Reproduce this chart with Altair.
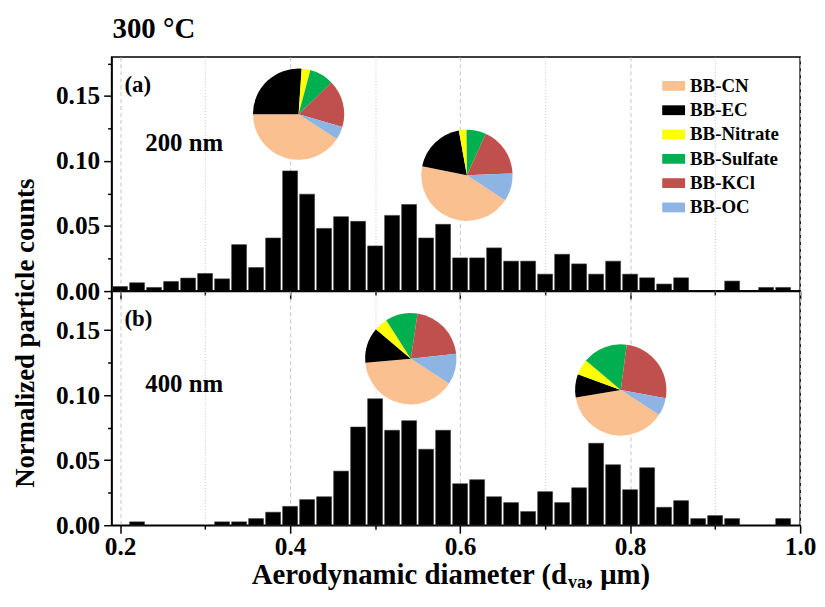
import math
import altair as alt
import pandas as pd

FONT = "Liberation Serif"

# ---------------- data ----------------
bin_centers = [0.20, 0.22, 0.24, 0.26, 0.28, 0.30, 0.32, 0.34, 0.36, 0.38,
               0.40, 0.42, 0.44, 0.46, 0.48, 0.50, 0.52, 0.54, 0.56, 0.58,
               0.60, 0.62, 0.64, 0.66, 0.68, 0.70, 0.72, 0.74, 0.76, 0.78,
               0.80, 0.82, 0.84, 0.86, 0.88, 0.90, 0.92, 0.94, 0.96, 0.98]

counts_a = [0.0035, 0.0064, 0.0028, 0.0074, 0.0100, 0.0135, 0.0094, 0.0357, 0.0181, 0.0408,
            0.0924, 0.0745, 0.0482, 0.0572, 0.0536, 0.0347, 0.0582, 0.0666, 0.0408, 0.0513,
            0.0255, 0.0255, 0.0332, 0.0230, 0.0230, 0.0130, 0.0283, 0.0209, 0.0130, 0.0230,
            0.0130, 0.0102, 0.0054, 0.0102, 0.0, 0.0, 0.0077, 0.0, 0.0028, 0.0028]

counts_b = [0.0, 0.0026, 0.0, 0.0, 0.0, 0.0, 0.0026, 0.0026, 0.0051, 0.0100,
            0.0145, 0.0197, 0.0219, 0.0416, 0.0755, 0.0972, 0.0730, 0.0804, 0.0584, 0.0730,
            0.0319, 0.0350, 0.0219, 0.0174, 0.0105, 0.0258, 0.0174, 0.0288, 0.0630, 0.0465,
            0.0273, 0.0442, 0.0138, 0.0189, 0.0051, 0.0074, 0.0051, 0.0, 0.0, 0.0051]

components = ["BB-CN", "BB-EC", "BB-Nitrate", "BB-Sulfate", "BB-KCl", "BB-OC"]
comp_colors = ["#FAC090", "#000000", "#FFFF00", "#00B050", "#C0504D", "#8DB4E2"]

# pie centres (diameter, count) and shares (%)
pie_a_x = [0.410, 0.608]
pie_a_y = [0.136, 0.089]
pie_a_shares = [[40.8, 26.1, 3.1, 8.6, 16.8, 4.6],
                [44.0, 19.0, 2.7, 6.9, 17.6, 9.8]]

pie_b_x = [0.542, 0.789]
pie_b_y = [0.128, 0.104]
pie_b_shares = [[39.4, 12.6, 4.8, 11.4, 20.9, 10.9],
                [38.2, 8.2, 5.6, 15.9, 25.8, 6.3]]

x_tick_values = [0.2, 0.3, 0.4, 0.5, 0.6, 0.7, 0.8, 0.9, 1.0]
y_tick_values = [0.0, 0.025, 0.05, 0.075, 0.1, 0.125, 0.15, 0.175]

panel_labels = ["(a)", "(b)"]
size_labels = ["200 nm", "400 nm"]
title_text = "300 °C"
y_title = "Normalized particle counts"
x_title_parts = ["Aerodynamic diameter (d", "va", ", μm)"]

# ---------------- layout constants ----------------
W, H = 694, 236
BAR_HALF = 0.00875
PIE_R = 46
START = 123 / 180 * math.pi

x_scale = alt.Scale(domain=[0.19, 1.0], nice=False, zero=False)
y_scale = alt.Scale(domain=[0, 0.18], nice=False)
theta_scale = alt.Scale(domain=[0, 100], range=[START, START + 2 * math.pi])
color_scale = alt.Scale(domain=components, range=comp_colors)

MAJ_X = "round(datum.value*10) % 2 == 0"
MAJ_Y = "round(datum.value*1000) % 50 == 0"


def x_axis(show_labels):
    return alt.Axis(
        values=x_tick_values, labels=show_labels,
        labelExpr=f"{MAJ_X} ? format(datum.value, '.1f') : ''",
        labelFont=FONT, labelFontSize=25.5, labelFontWeight="bold", labelColor="black",
        labelPadding=1, labelFlush=False, labelOverlap=False,
        title=None, grid=True, gridColor="#c4c4c4", gridWidth=1,
        gridDash={"condition": {"test": MAJ_X, "value": [4, 3]}, "value": [1, 2]},
        tickColor="black", tickWidth=1.5,
        tickSize={"condition": {"test": MAJ_X, "value": 8}, "value": 4},
        domainColor="black", domainWidth=1.5,
    )


def y_axis(with_title):
    kw = dict(
        values=y_tick_values,
        labelExpr=f"{MAJ_Y} ? format(datum.value, '.2f') : ''",
        labelFont=FONT, labelFontSize=25.5, labelFontWeight="bold", labelColor="black",
        labelPadding=4, labelFlush=False, labelOverlap=False,
        grid=False, tickColor="black", tickWidth=1.5,
        tickSize={"condition": {"test": MAJ_Y, "value": 8}, "value": 4},
        domainColor="black", domainWidth=1.5,
    )
    if with_title:
        kw.update(title=y_title, titleFont=FONT, titleFontSize=27, titleFontWeight="bold",
                  titleColor="black", titleY=278, titlePadding=16)
    else:
        kw.update(title=None)
    return alt.Axis(**kw)


def pie_frame(xs, ys, shares):
    rows = []
    for p, (px, py, sh) in enumerate(zip(xs, ys, shares)):
        for i, (c, v) in enumerate(zip(components, sh)):
            rows.append({"pie": p, "px": px, "py": py, "comp": c, "idx": i, "v": v})
    return pd.DataFrame(rows)


def text_layer(t, x, y, size, align="left", baseline="middle"):
    return alt.Chart(pd.DataFrame({"t": [t]})).mark_text(
        align=align, baseline=baseline, font=FONT, fontSize=size, fontWeight="bold",
        color="black"
    ).encode(x=alt.value(x), y=alt.value(y), text="t:N")


def panel(counts, pxs, pys, shares, idx, bottom):
    xa = x_axis(bottom)
    ya = y_axis(idx == 0)
    bars = alt.Chart(pd.DataFrame({"d": bin_centers, "count": counts})).transform_filter(
        "datum.count > 0"
    ).transform_calculate(
        x1=f"datum.d - {BAR_HALF}", x2=f"datum.d + {BAR_HALF}"
    ).mark_bar(color="black", stroke="#3a3a3a", strokeWidth=0.6).encode(
        x=alt.X("x1:Q", scale=x_scale, axis=xa),
        x2="x2:Q",
        y=alt.Y("count:Q", scale=y_scale, axis=ya),
        y2=alt.datum(0),
    )
    if idx == 0:
        legend = alt.Legend(
            orient="none", legendX=555, legendY=17.7, title=None,
            symbolType="M-1,-0.43H1V0.43H-1Z", symbolSize=529, symbolStrokeWidth=0,
            symbolOpacity=1, labelFont=FONT, labelFontSize=19, labelFontWeight="bold",
            labelColor="black", rowPadding=2.5, labelOffset=5, padding=0,
        )
    else:
        legend = None
    pies = alt.Chart(pie_frame(pxs, pys, shares)).transform_window(
        cum="sum(v)", groupby=["pie"], sort=[alt.SortField("idx", order="ascending")],
        frame=[None, 0]
    ).transform_calculate(start="datum.cum - datum.v").mark_arc(outerRadius=PIE_R).encode(
        x=alt.X("px:Q", scale=x_scale, axis=xa),
        y=alt.Y("py:Q", scale=y_scale, axis=ya),
        theta=alt.Theta("start:Q", scale=theta_scale),
        theta2="cum:Q",
        color=alt.Color("comp:N", scale=color_scale, legend=legend),
    )
    layers = [
        bars, pies,
        text_layer(panel_labels[idx], 13, 28.5, 23),
        text_layer(size_labels[idx], 34, 87 if idx == 0 else 94, 25),
    ]
    if idx == 0:
        layers.append(text_layer(title_text, 1, -19.5, 29, "left", "alphabetic"))
    if bottom:
        X0 = 459
        layers += [
            text_layer(x_title_parts[0], X0, H + 59, 29, "right", "alphabetic"),
            text_layer(x_title_parts[1], X0 + 1, H + 63.5, 18, "left", "alphabetic"),
            text_layer(x_title_parts[2], X0 + 19, H + 59, 29, "left", "alphabetic"),
        ]
    return alt.layer(*layers).properties(width=W, height=H)


pa = panel(counts_a, pie_a_x, pie_a_y, pie_a_shares, 0, False)
pb = panel(counts_b, pie_b_x, pie_b_y, pie_b_shares, 1, True)

chart = alt.vconcat(pa, pb, spacing=0, bounds="flush").resolve_scale(
    color="independent"
).properties(
    padding={"left": 2.4, "top": 3, "right": 0, "bottom": 0.5}
).configure_view(stroke="black", strokeWidth=1.5)

chart.save("out.html", embed_options={"renderer": "svg", "actions": False})
